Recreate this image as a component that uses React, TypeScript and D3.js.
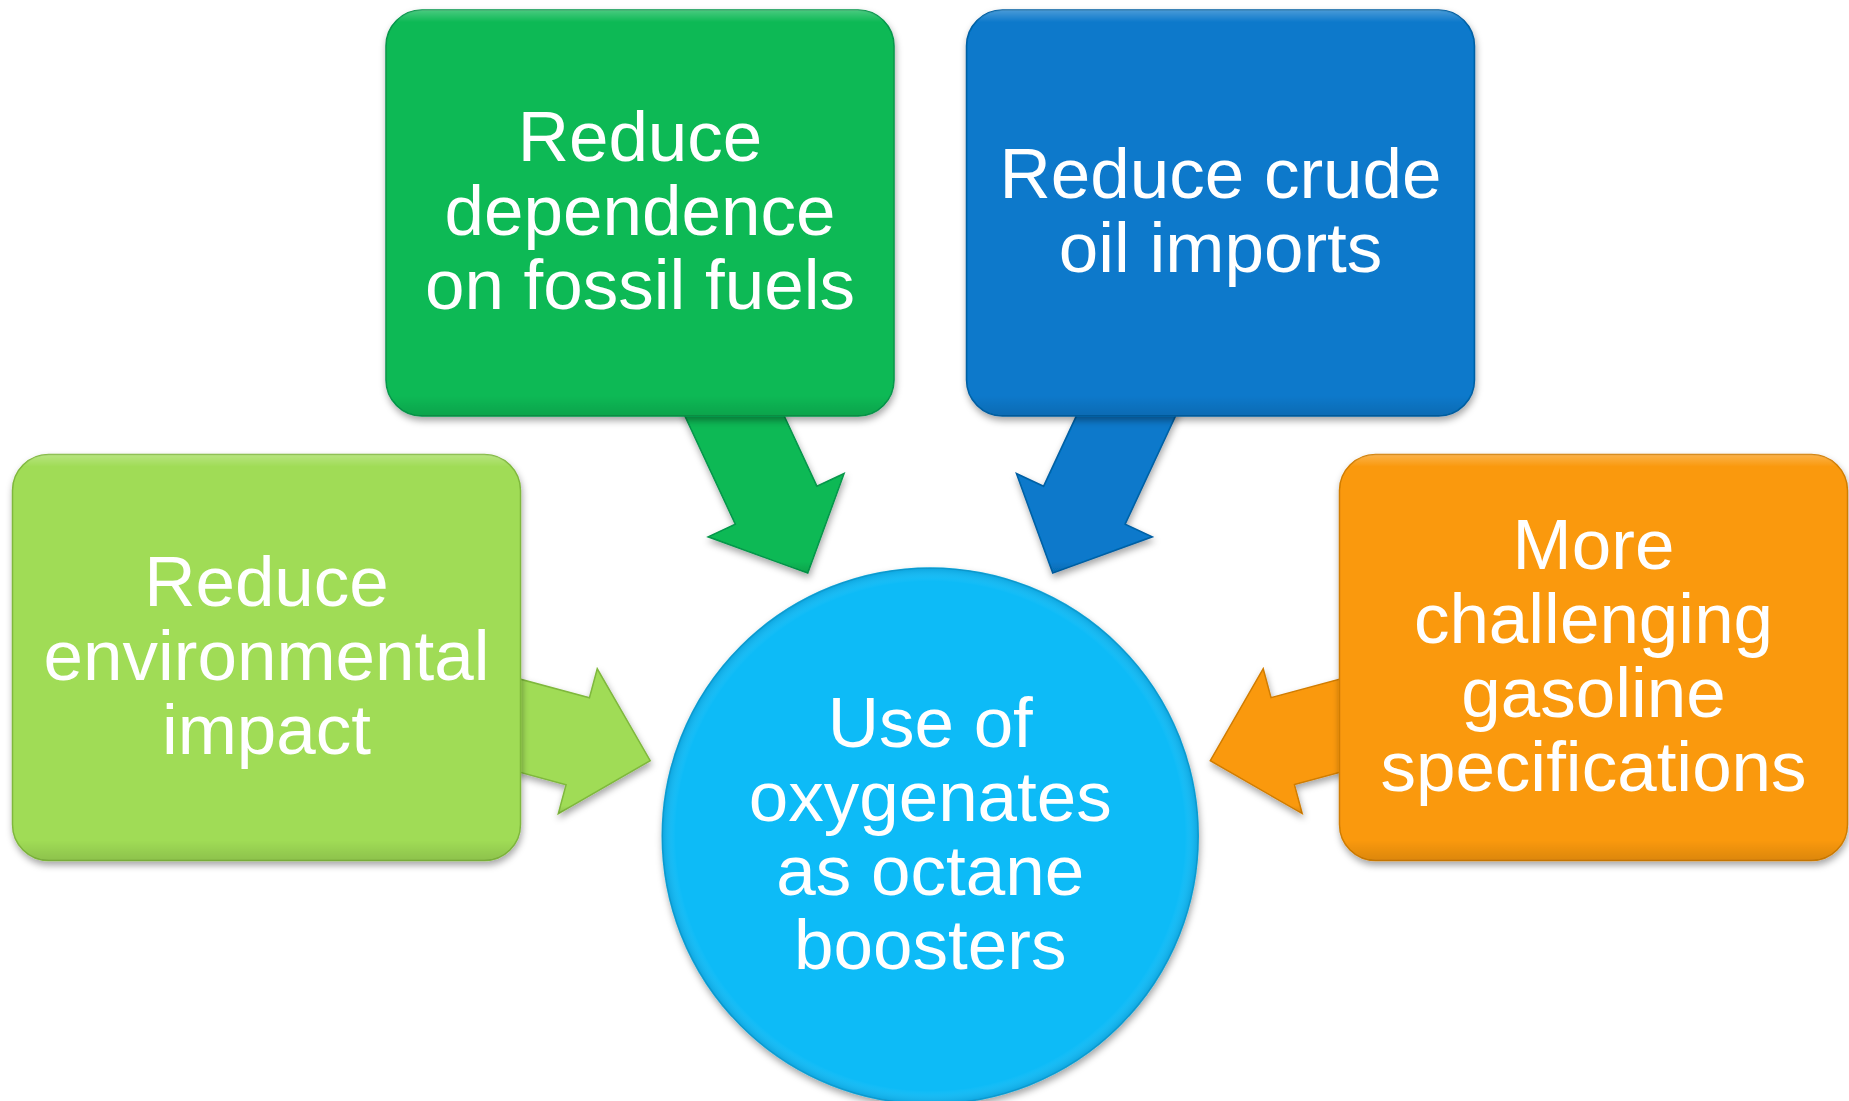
import { useMemo } from 'react';
import * as d3 from 'd3';

// hub + four satellite nodes
const hubLabel = ['Use of', 'oxygenates', 'as octane', 'boosters'];
const hubColor = '#08bbf7';

const nodeIds = ['fossil', 'crude', 'environment', 'gasoline'];
const nodeLabels = [
    ['Reduce', 'dependence', 'on fossil fuels'],
    ['Reduce crude', 'oil imports'],
    ['Reduce', 'environmental', 'impact'],
    ['More', 'challenging', 'gasoline', 'specifications'],
];
const nodeColors = ['#08b955', '#0779cb', '#a0dc57', '#fa990a'];
const nodeStrokes = ['#07964a', '#055fa3', '#7fb83c', '#d17d05'];

// layout (centres of the boxes, in page px)
const nodeCenters: [number, number][] = [
    [640, 213],
    [1220.5, 213],
    [266.5, 657.5],
    [1593.5, 657.5],
];
const hubCenter: [number, number] = [930.25, 836];
const hubRadius = 268;
const boxW = 508;
const boxH = 406;
const boxR = 36;

const fontSize = 71;
const lineGap = 74;
const baselineShift = 22;

const arrowTipGap = 290; // distance tip -> hub centre
const arrowLen = 240;
const headLen = 75;
const headHalf = 75;
const shaftHalf = 45;

const lineGen = d3.line<[number, number]>().curve(d3.curveLinearClosed);

const arrowPath = (from: [number, number]) => {
    const dx = hubCenter[0] - from[0];
    const dy = hubCenter[1] - from[1];
    const dist = Math.hypot(dx, dy);
    const ux = dx / dist;
    const uy = dy / dist;
    const nx = -uy;
    const ny = ux;
    const tip: [number, number] = [hubCenter[0] - ux * arrowTipGap, hubCenter[1] - uy * arrowTipGap];
    const at = (along: number, side: number): [number, number] => [
        tip[0] - ux * along + nx * side,
        tip[1] - uy * along + ny * side,
    ];
    return lineGen([
        at(arrowLen, shaftHalf),
        at(headLen, shaftHalf),
        at(headLen, headHalf),
        tip,
        at(headLen, -headHalf),
        at(headLen, -shaftHalf),
        at(arrowLen, -shaftHalf),
    ]) ?? '';
};

const TextBlock = ({ lines, cx, cy }: { lines: string[]; cx: number; cy: number }) => (
    <text
        x={cx}
        textAnchor="middle"
        fill="#ffffff"
        fontSize={fontSize}
        fontFamily="'Liberation Sans', Arial, sans-serif"
    >
        {lines.map((line, i) => (
            <tspan key={i} x={cx} y={cy + baselineShift + (i - (lines.length - 1) / 2) * lineGap}>
                {line}
            </tspan>
        ))}
    </text>
);

export default function App() {
    const arrows = useMemo(() => nodeCenters.map((c) => arrowPath(c)), []);

    return (
        <svg
            width={1849}
            height={1101}
            viewBox="0 0 1849 1101"
            style={{ position: 'absolute', left: 0, top: 0, background: '#ffffff' }}
        >
            <defs>
                <filter id="shadow" x="-20%" y="-20%" width="140%" height="140%">
                    <feDropShadow dx="1" dy="4" stdDeviation="3.5" floodColor="#000" floodOpacity="0.35" />
                </filter>
                <linearGradient id="shine" x1="0" y1="0" x2="0" y2="1">
                    <stop offset="0" stopColor="#fff" stopOpacity="0.25" />
                    <stop offset="0.03" stopColor="#fff" stopOpacity="0" />
                    <stop offset="0.95" stopColor="#000" stopOpacity="0" />
                    <stop offset="1" stopColor="#000" stopOpacity="0.12" />
                </linearGradient>
                <radialGradient id="hubShade" cx="0.5" cy="0.5" r="0.5">
                    <stop offset="0.95" stopColor="#fff" stopOpacity="0" />
                    <stop offset="1" stopColor="#034e80" stopOpacity="0.2" />
                </radialGradient>
            </defs>

            {arrows.map((d, i) => (
                <g key={`arrow-${nodeIds[i]}`} filter="url(#shadow)">
                    <path d={d} fill={nodeColors[i]} stroke={nodeStrokes[i]} strokeWidth={1.5} strokeLinejoin="miter" />
                    <path d={d} fill="url(#shine)" />
                </g>
            ))}

            {nodeCenters.map(([cx, cy], i) => (
                <g key={`box-${nodeIds[i]}`}>
                    <g filter="url(#shadow)">
                        <rect
                            x={cx - boxW / 2}
                            y={cy - boxH / 2}
                            width={boxW}
                            height={boxH}
                            rx={boxR}
                            fill={nodeColors[i]}
                            stroke={nodeStrokes[i]}
                            strokeWidth={1.5}
                        />
                    </g>
                    <rect
                        x={cx - boxW / 2}
                        y={cy - boxH / 2}
                        width={boxW}
                        height={boxH}
                        rx={boxR}
                        fill="url(#shine)"
                    />
                    <TextBlock lines={nodeLabels[i]} cx={cx} cy={cy} />
                </g>
            ))}

            <g filter="url(#shadow)">
                <circle cx={hubCenter[0]} cy={hubCenter[1]} r={hubRadius} fill={hubColor} stroke="#0aa3d8" strokeWidth={1.5} />
            </g>
            <circle cx={hubCenter[0]} cy={hubCenter[1]} r={hubRadius} fill="url(#hubShade)" />
            <TextBlock lines={hubLabel} cx={hubCenter[0]} cy={hubCenter[1]} />
        </svg>
    );
}
